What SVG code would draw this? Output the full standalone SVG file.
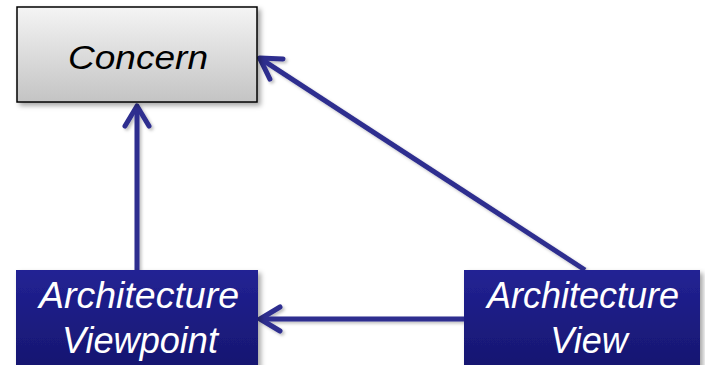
<svg xmlns="http://www.w3.org/2000/svg" width="705" height="365" viewBox="0 0 705 365">
  <style>
    .lbl { font-family: "Liberation Sans", Arial, sans-serif; font-style: italic; text-anchor: middle; }
    .dark { fill: #000000; }
    .light { fill: #ffffff; }
    .conn { stroke: #2e2e8f; stroke-width: 5; fill: none; marker-end: url(#arrow); }
  </style>
  <defs>
    <linearGradient id="greyGrad" x1="0" y1="0" x2="0" y2="1">
      <stop offset="0" stop-color="#f4f4f4"/>
      <stop offset="1" stop-color="#c4c4c4"/>
    </linearGradient>
    <linearGradient id="blueGrad" x1="0" y1="0" x2="0" y2="1">
      <stop offset="0" stop-color="#222294"/>
      <stop offset="1" stop-color="#16166f"/>
    </linearGradient>
    <filter id="shadow" x="-10%" y="-10%" width="130%" height="140%">
      <feDropShadow dx="3" dy="3" stdDeviation="2.5" flood-color="#000000" flood-opacity="0.35"/>
    </filter>
    <filter id="lshadow" x="-10%" y="-10%" width="130%" height="130%">
      <feDropShadow dx="2" dy="2" stdDeviation="1.5" flood-color="#000000" flood-opacity="0.25"/>
    </filter>
    <marker id="arrow" markerUnits="userSpaceOnUse" markerWidth="40" markerHeight="40" viewBox="-30 -20 40 40" refX="0" refY="0" orient="auto" overflow="visible">
      <path d="M -20 -12 L 0 0 L -20 12" fill="none" stroke="#2e2e8f" stroke-width="5" stroke-linecap="round" stroke-linejoin="round"/>
    </marker>
  </defs>

  <g id="connectors" filter="url(#lshadow)">
    <line class="conn" x1="137" y1="270" x2="137" y2="106"/>
    <line class="conn" x1="585" y1="270" x2="259.7" y2="58.1"/>
    <line class="conn" x1="464" y1="319" x2="260" y2="319"/>
  </g>

  <g id="concern">
    <rect x="17" y="7" width="240" height="95" fill="url(#greyGrad)" stroke="#000000" stroke-width="1.5" filter="url(#shadow)"/>
    <text class="lbl dark" x="138" y="69" font-size="33" textLength="140" lengthAdjust="spacingAndGlyphs">Concern</text>
  </g>

  <g id="viewpoint">
    <rect x="16" y="270" width="242" height="100" fill="url(#blueGrad)" filter="url(#shadow)"/>
    <text class="lbl light" x="139" y="308" font-size="36" textLength="200" lengthAdjust="spacingAndGlyphs">Architecture</text>
    <text class="lbl light" x="140" y="353" font-size="36" textLength="156" lengthAdjust="spacingAndGlyphs">Viewpoint</text>
  </g>

  <g id="view">
    <rect x="464" y="270" width="236" height="100" fill="url(#blueGrad)" filter="url(#shadow)"/>
    <text class="lbl light" x="583" y="308" font-size="36" textLength="192" lengthAdjust="spacingAndGlyphs">Architecture</text>
    <text class="lbl light" x="589" y="353" font-size="36">View</text>
  </g>
</svg>
